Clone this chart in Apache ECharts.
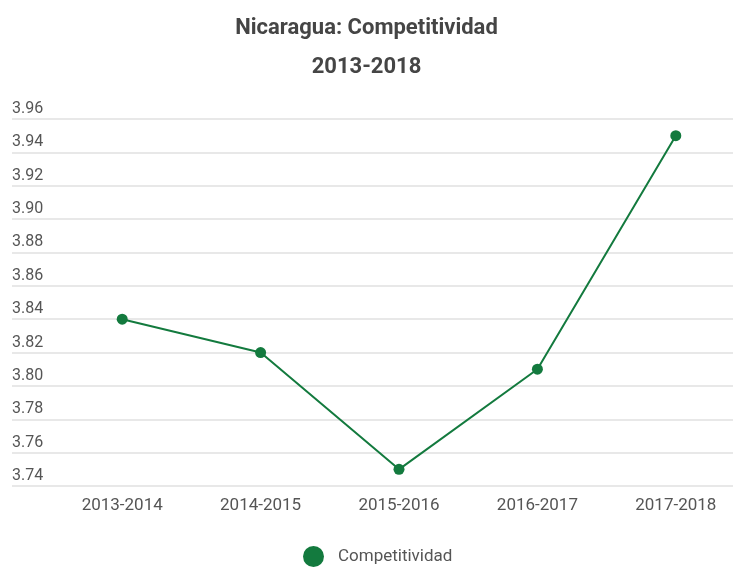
<!DOCTYPE html>
<html>
<head>
<meta charset="utf-8">
<script src="https://cdn.jsdelivr.net/npm/echarts@6/dist/echarts.min.js"></script>
<style>
  html, body { margin: 0; padding: 0; background: #fff; }
  #chart { width: 733px; height: 567px; }
</style>
</head>
<body>
<div id="chart"></div>
<script>
const categories = ['2013-2014', '2014-2015', '2015-2016', '2016-2017', '2017-2018'];
const competitividad = [3.84, 3.82, 3.75, 3.81, 3.95];
const yMin = 3.74;
const yMax = 3.96;
const yStep = 0.02;

const chart = echarts.init(document.getElementById('chart'));
const option = {
  backgroundColor: '#fff',
  title: {
    text: 'Nicaragua: Competitividad\n2013-2018',
    left: 'center',
    top: 4,
    textStyle: {
      fontFamily: 'Roboto',
      fontSize: 22,
      fontWeight: 'bold',
      color: '#454545',
      lineHeight: 39
    }
  },
  legend: {
    bottom: 0,
    left: 303,
    padding: 0,
    icon: 'circle',
    itemWidth: 21,
    itemHeight: 21,
    textStyle: { fontFamily: 'Roboto', fontSize: 17, color: '#555', padding: [0, 0, 0, 9] },
    data: ['Competitividad']
  },
  grid: [
    // gridlines + y labels (full width)
    { left: 12, right: 0, top: 119, bottom: 81, outerBoundsMode: 'none' },
    // plot area for the line
    { left: 53, right: -12, top: 119, bottom: 81, outerBoundsMode: 'none' }
  ],
  xAxis: [
    { gridIndex: 0, type: 'category', data: categories, show: false },
    {
      gridIndex: 1,
      type: 'category',
      data: categories,
      axisLine: { show: false },
      axisTick: { show: false },
      axisLabel: { fontFamily: 'Roboto', fontSize: 17, color: '#555', margin: 11 }
    }
  ],
  yAxis: [
    {
      gridIndex: 0,
      type: 'value',
      min: yMin,
      max: yMax,
      interval: yStep,
      axisLine: { show: false },
      axisTick: { show: false },
      splitLine: { lineStyle: { color: '#e0e0e0', width: 1.5 } },
      axisLabel: {
        inside: true,
        margin: 0,
        verticalAlign: 'bottom',
        padding: [0, 0, 2, 0],
        fontFamily: 'Roboto',
        fontSize: 16,
        color: '#555',
        formatter: v => v.toFixed(2)
      }
    },
    { gridIndex: 1, type: 'value', min: yMin, max: yMax, interval: yStep, show: false, splitLine: { show: false } }
  ],
  series: [
    {
      name: 'Competitividad',
      type: 'line',
      xAxisIndex: 1,
      yAxisIndex: 1,
      data: competitividad,
      symbol: 'circle',
      symbolSize: 11,
      itemStyle: { color: '#137a3e' },
      lineStyle: { color: '#137a3e', width: 2 }
    }
  ]
};
chart.setOption(option);
</script>
</body>
</html>
